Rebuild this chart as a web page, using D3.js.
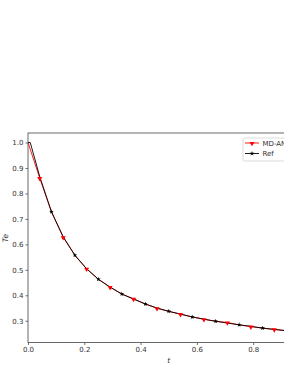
<!DOCTYPE html>
<html>
<head>
<meta charset="utf-8">
<script src="https://cdn.jsdelivr.net/npm/d3@7"></script>
<style>
  body { margin: 0; background: #fff; overflow: hidden; }
  svg { display: block; font-family: "DejaVu Sans", sans-serif; }
</style>
</head>
<body>
<div class="canvas"></div>
<script>
// data
const refT = [0, 0.008, 0.0417, 0.0833, 0.125, 0.1667, 0.2083, 0.25, 0.2917, 0.3333, 0.375, 0.4167, 0.4583, 0.5, 0.5417, 0.5833, 0.625, 0.6667, 0.7083, 0.75, 0.7917, 0.8333, 0.875, 0.9167, 0.9583, 1.0];
const refTe = [1.0, 1.0, 0.866, 0.728, 0.630, 0.557, 0.504, 0.463, 0.432, 0.405, 0.385, 0.366, 0.350, 0.337, 0.326, 0.315, 0.306, 0.298, 0.291, 0.284, 0.278, 0.271, 0.266, 0.261, 0.256, 0.252];
const mdT = [0, 0.0417, 0.0833, 0.125, 0.1667, 0.2083, 0.25, 0.2917, 0.3333, 0.375, 0.4167, 0.4583, 0.5, 0.5417, 0.5833, 0.625, 0.6667, 0.7083, 0.75, 0.7917, 0.8333, 0.875, 0.9167, 0.9583, 1.0];
const mdTe = [1.0, 0.860, 0.728, 0.628, 0.557, 0.504, 0.463, 0.432, 0.405, 0.386, 0.366, 0.349, 0.337, 0.326, 0.315, 0.306, 0.298, 0.293, 0.284, 0.277, 0.271, 0.266, 0.261, 0.256, 0.252];
// marker indices (every other point)
const refMarks = [3, 5, 7, 9, 11, 13, 15, 17, 19, 21, 23];
const mdMarks = [1, 3, 5, 7, 9, 11, 13, 15, 17, 19, 21, 23];
const xTicks = [0, 0.2, 0.4, 0.6, 0.8];
const yTicks = [0.3, 0.4, 0.5, 0.6, 0.7, 0.8, 0.9, 1.0];
const seriesNames = ["MD-ANN", "Ref"];

const W = 284, H = 367;
const plot = { left: 28, right: 309.5, top: 133, bottom: 342.5 };

const svg = d3.select(".canvas").append("svg")
  .attr("width", W).attr("height", H);

const x = d3.scaleLinear().domain([0, 1]).range([plot.left, plot.right]);
const y = d3.scaleLinear().domain([0.2146, 1.0374]).range([plot.bottom, plot.top]);

// axes
const xAxis = svg.append("g")
  .attr("transform", `translate(0, ${plot.bottom})`)
  .call(d3.axisBottom(x).tickValues(xTicks).tickFormat(d3.format(".1f")).tickSize(2.5).tickPadding(2));
const yAxis = svg.append("g")
  .attr("transform", `translate(${plot.left}, 0)`)
  .call(d3.axisLeft(y).tickValues(yTicks).tickFormat(d3.format(".1f")).tickSize(2.5).tickPadding(2));

[xAxis, yAxis].forEach((g) => {
  g.select(".domain").remove();
  g.selectAll("line").attr("stroke", "#333").attr("stroke-width", 0.7);
  g.selectAll("text").attr("font-size", 7).attr("fill", "#333")
    .attr("font-family", "DejaVu Sans, sans-serif");
});

// frame
svg.append("rect")
  .attr("x", plot.left).attr("y", plot.top)
  .attr("width", plot.right - plot.left).attr("height", plot.bottom - plot.top)
  .attr("fill", "none").attr("stroke", "#444").attr("stroke-width", 0.8);

// axis labels
svg.append("text")
  .attr("x", x(0.5)).attr("y", 363)
  .attr("text-anchor", "middle").attr("font-size", 7.5)
  .attr("font-style", "italic").attr("fill", "#333").text("t");
svg.append("text")
  .attr("transform", `translate(8, ${y(0.625)}) rotate(-90)`)
  .attr("text-anchor", "middle").attr("font-size", 7.5)
  .attr("font-style", "italic").attr("fill", "#333").text("Te");

const line = d3.line().x((d) => x(d[0])).y((d) => y(d[1]));

const mdData = mdT.map((t, i) => [t, mdTe[i]]);
const refData = refT.map((t, i) => [t, refTe[i]]);

svg.append("defs").append("clipPath").attr("id", "clip")
  .append("rect").attr("x", plot.left).attr("y", plot.top)
  .attr("width", plot.right - plot.left).attr("height", plot.bottom - plot.top);

const graph = svg.append("g").attr("clip-path", "url(#clip)");

graph.append("path").datum(mdData)
  .attr("d", line).attr("fill", "none").attr("stroke", "red").attr("stroke-width", 0.9);
graph.append("path").datum(refData)
  .attr("d", line).attr("fill", "none").attr("stroke", "black").attr("stroke-width", 0.9);

const triDown = d3.symbol().type(d3.symbolTriangle).size(11);
const star = d3.symbol().type(d3.symbolStar).size(7);

graph.selectAll(".md").data(mdMarks.map((i) => mdData[i])).enter()
  .append("path").attr("class", "md")
  .attr("d", triDown)
  .attr("transform", (d) => `translate(${x(d[0])}, ${y(d[1]) + 0.4}) rotate(180)`)
  .attr("fill", "red");
graph.selectAll(".ref").data(refMarks.map((i) => refData[i])).enter()
  .append("path").attr("class", "ref")
  .attr("d", star)
  .attr("transform", (d) => `translate(${x(d[0])}, ${y(d[1])})`)
  .attr("fill", "black");

// legend
const legend = svg.append("g").attr("transform", "translate(243, 138)");
legend.append("rect")
  .attr("width", 62).attr("height", 23).attr("rx", 1.5)
  .attr("fill", "white").attr("fill-opacity", 0.8)
  .attr("stroke", "#ccc").attr("stroke-width", 0.7);
const colors = ["red", "black"];
seriesNames.forEach((name, i) => {
  const ly = 5 + i * 10.5;
  legend.append("line").attr("x1", 2).attr("x2", 16).attr("y1", ly).attr("y2", ly)
    .attr("stroke", colors[i]).attr("stroke-width", 0.9);
  legend.append("path")
    .attr("d", i === 0 ? triDown : star)
    .attr("transform", `translate(9, ${i === 0 ? ly + 0.4 : ly}) rotate(${i === 0 ? 180 : 0})`)
    .attr("fill", colors[i]);
  legend.append("text").attr("x", 19.5).attr("y", ly + 2.5)
    .attr("font-size", 7).attr("fill", "#333").text(name);
});
</script>
</body>
</html>
